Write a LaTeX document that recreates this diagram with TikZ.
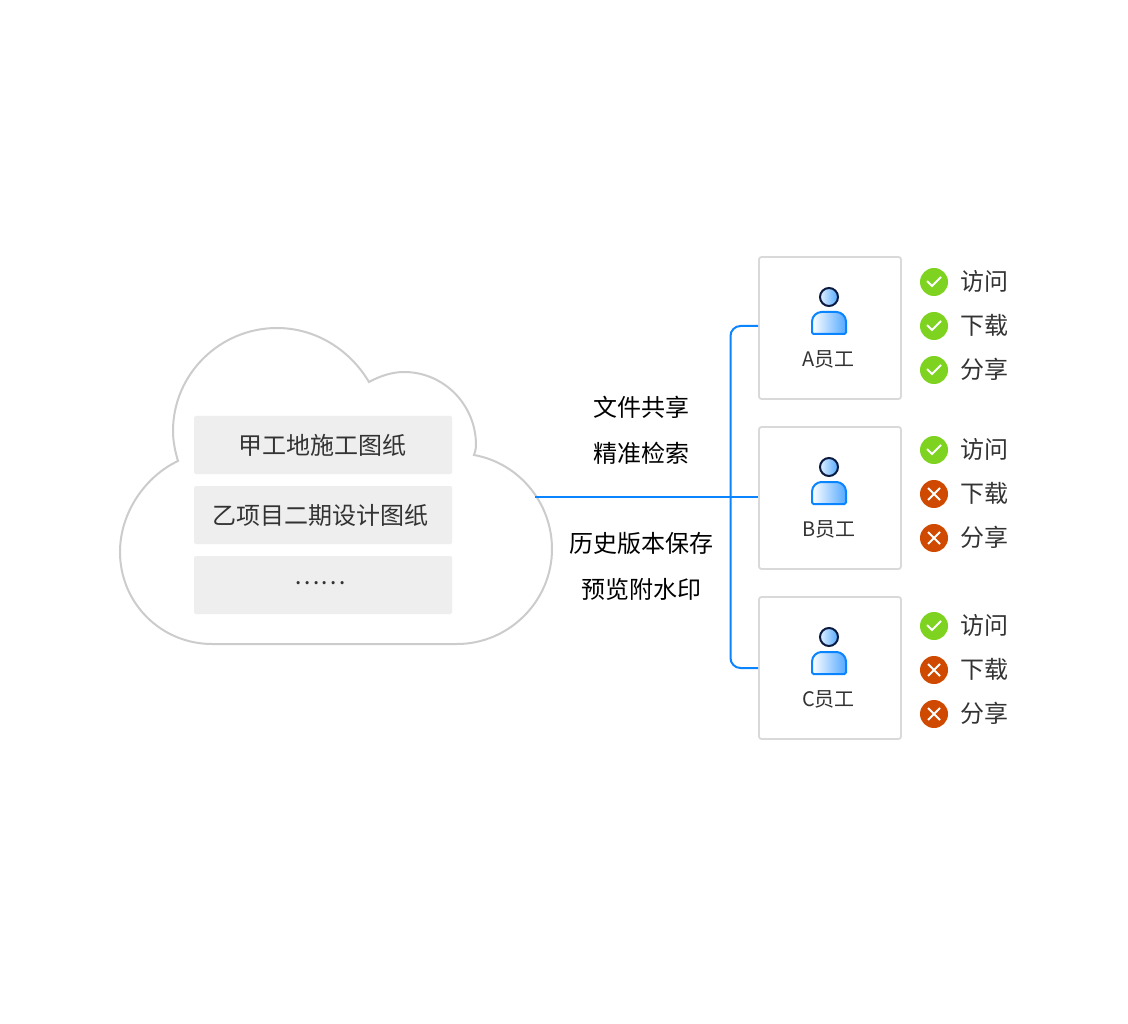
\documentclass[tikz,border=0pt]{standalone}
\usepackage{fontspec}
\setmainfont{Noto Sans CJK SC}
\definecolor{linkblue}{HTML}{0A84FF}
\definecolor{cloudgrey}{HTML}{CCCCCC}
\definecolor{boxgrey}{HTML}{D9D9D9}
\definecolor{panelgrey}{HTML}{EEEEEE}
\definecolor{txtgrey}{HTML}{333333}
\definecolor{okgreen}{HTML}{7ED321}
\definecolor{nored}{HTML}{CF4A00}
\definecolor{headink}{HTML}{0A1A40}
\tikzset{
  panel/.style={fill=panelgrey,rounded corners=1.5pt,minimum width=258pt,minimum height=58pt,inner sep=0pt,draw=none},
  paneltext/.style={font=\fontsize{24}{24}\selectfont,text=txtgrey,inner sep=0pt},
  linktext/.style={font=\fontsize{24}{24}\selectfont,text=black,inner sep=0pt},
  person/.style={draw=boxgrey,line width=1.8pt,rounded corners=2.5pt,minimum width=142pt,minimum height=142pt,inner sep=0pt,fill=white},
  persontext/.style={font=\fontsize{20}{20}\selectfont,text=txtgrey,inner sep=0pt},
  permtext/.style={font=\fontsize{24}{24}\selectfont,text=txtgrey,inner sep=0pt,anchor=west},
  okdot/.style={circle,fill=okgreen,minimum size=28pt,inner sep=0pt},
  nodot/.style={circle,fill=nored,minimum size=28pt,inner sep=0pt},
  link/.style={draw=linkblue,line width=2pt},
}
\newcommand{\okmark}[1]{\draw[white,line width=1.8pt] ([xshift=-7pt,yshift=1pt]#1.center) -- ([xshift=-2pt,yshift=-4pt]#1.center) -- ([xshift=7pt,yshift=5pt]#1.center);}
\newcommand{\nomark}[1]{\draw[white,line width=1.8pt] ([xshift=-6pt,yshift=6pt]#1.center) -- ([xshift=6pt,yshift=-6pt]#1.center) ([xshift=-6pt,yshift=-6pt]#1.center) -- ([xshift=6pt,yshift=6pt]#1.center);}
\newcommand{\personicon}[2]{%
  \shade[left color=white,right color=linkblue!70,draw=linkblue,line width=2pt,rounded corners=1.5pt]
    (#1-17,#2+37) -- (#1-17,#2+26)
    .. controls (#1-17,#2+19) and (#1-12,#2+15) .. (#1-6,#2+15)
    -- (#1+6,#2+15)
    .. controls (#1+12,#2+15) and (#1+17,#2+19) .. (#1+17,#2+26)
    -- (#1+17,#2+37) -- cycle;
  \shade[left color=linkblue!12,right color=linkblue!70,draw=headink,line width=2pt] (#1,#2) circle (9pt);
}
\begin{document}
\begin{tikzpicture}[x=1pt,y=-1pt]
\useasboundingbox (0,0) rectangle (1128,1024);
\fill[white] (0,0) rectangle (1128,1024);

% cloud
\draw[cloudgrey,line width=2pt,fill=white,line join=miter]
  (178,461) .. controls (175,451) and (173,441) .. (173,431)
  .. controls (173,374) and (220,328) .. (277,328)
  .. controls (316,328) and (350,350) .. (369,382)
  .. controls (380,376) and (392,372) .. (404,372)
  .. controls (444,372) and (476,405) .. (476,445)
  .. controls (476,449) and (475,452) .. (474,455)
  .. controls (519,463) and (552,503) .. (552,549)
  .. controls (552,601) and (509,644) .. (457,644)
  -- (212,644)
  .. controls (161,644) and (120,603) .. (120,552)
  .. controls (120,512) and (146,476) .. (178,461) -- cycle;

% panels
\node[panel] (p1) at (323,445) {};
\node[panel] (p2) at (323,515) {};
\node[panel] (p3) at (323,585) {};
\node[paneltext] (t1) at (322.5,445) {甲工地施工图纸};
\node[paneltext] (t2) at (320.5,515) {乙项目二期设计图纸};
\node[paneltext] (t3) at (320,583) {……};

% person boxes
\node[person] (boxA) at (830,328) {};
\node[person] (boxB) at (830,498) {};
\node[person] (boxC) at (830,668) {};

% connectors
\coordinate (src) at (535,497);
\coordinate (busTop) at (730.5,326);
\coordinate (busBot) at (730.5,668);
\draw[link] (src) -- (boxB.west |- src);
\draw[link,rounded corners=10pt] (boxA.west |- busTop) -- (busTop) -- (busBot) -- (boxC.west |- busBot);

% link labels
\node[linktext] (l1) at (641,407) {文件共享};
\node[linktext] (l2) at (641,453) {精准检索};
\node[linktext] (l3) at (641,543) {历史版本保存};
\node[linktext] (l4) at (641,589) {预览附水印};

% icons
\personicon{829}{297}
\personicon{829}{467}
\personicon{829}{637}
\node[persontext] (na) at (828.3,359) {A员工};
\node[persontext] (nb) at (828.7,529) {B员工};
\node[persontext] (nc) at (828.5,699) {C员工};

% permissions A
\node[okdot] (a1) at (934,282) {}; \okmark{a1}
\node[okdot] (a2) at (934,326) {}; \okmark{a2}
\node[okdot] (a3) at (934,370) {}; \okmark{a3}
\node[permtext] (ta1) at (960.5,281) {访问};
\node[permtext] (ta2) at (960.5,325) {下载};
\node[permtext] (ta3) at (960.5,369) {分享};
% permissions B
\node[okdot] (b1) at (934,450) {}; \okmark{b1}
\node[nodot] (b2) at (934,494) {}; \nomark{b2}
\node[nodot] (b3) at (934,538) {}; \nomark{b3}
\node[permtext] (tb1) at (960.5,449) {访问};
\node[permtext] (tb2) at (960.5,493) {下载};
\node[permtext] (tb3) at (960.5,537) {分享};
% permissions C
\node[okdot] (c1) at (934,626) {}; \okmark{c1}
\node[nodot] (c2) at (934,670) {}; \nomark{c2}
\node[nodot] (c3) at (934,714) {}; \nomark{c3}
\node[permtext] (tc1) at (960.5,625) {访问};
\node[permtext] (tc2) at (960.5,669) {下载};
\node[permtext] (tc3) at (960.5,713) {分享};
\end{tikzpicture}
\end{document}
